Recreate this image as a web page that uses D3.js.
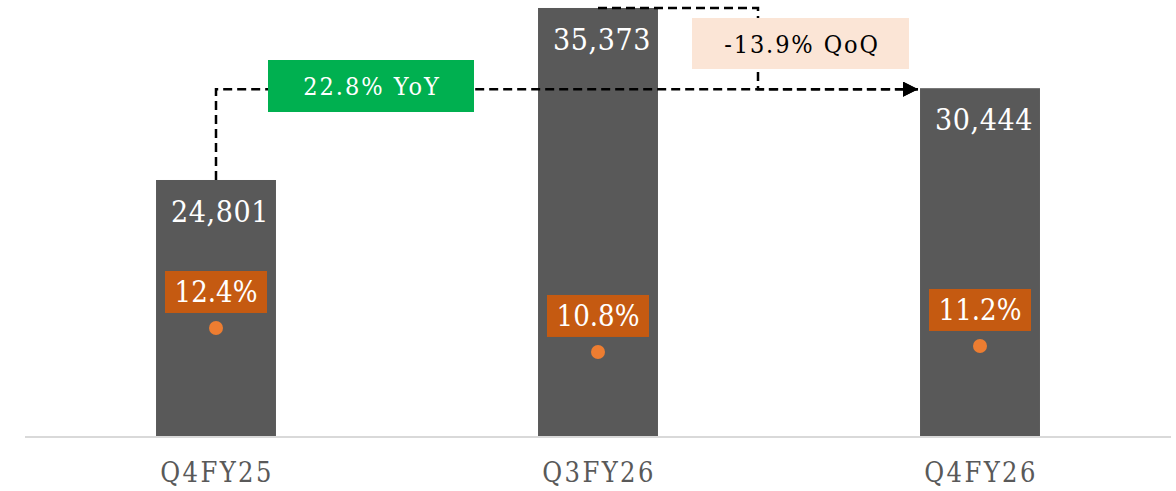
<!DOCTYPE html>
<html>
<head>
<meta charset="utf-8">
<script src="https://cdn.jsdelivr.net/npm/d3@7"></script>
<style>
  body { margin: 0; background: #fff; }
  svg text { font-family: "DejaVu Serif Condensed", "DejaVu Serif", serif; font-stretch: condensed; }
</style>
</head>
<body>
<div id="chart"></div>
<script>
// data
const quarters = ['Q4FY25', 'Q3FY26', 'Q4FY26'];
const revenue = [24801, 35373, 30444];
const margin = [12.4, 10.8, 11.2];
const yoyText = '22.8% YoY';
const qoqText = '-13.9% QoQ';

// dimensions
const width = 1176;
const height = 491;
const baseY = 437;

const svg = d3.select('#chart')
  .append('svg')
  .attr('width', width)
  .attr('height', height);

// scales
const x = d3.scaleBand().domain(quarters).range([25, 1171])
  .paddingInner(0.686).paddingOuter(0.343);
const y = d3.scaleLinear().domain([9005, 35864]).range([baseY, 0]);
const y2 = d3.scaleLinear().domain([5.13, 34.27]).range([baseY, 0]);
const cx = d => x(d) + x.bandwidth() / 2;

// arrow marker
svg.append('defs').append('marker')
  .attr('id', 'arrow')
  .attr('viewBox', '0 0 10 10')
  .attr('refX', 10).attr('refY', 5)
  .attr('markerWidth', 7.5).attr('markerHeight', 6)
  .attr('markerUnits', 'strokeWidth')
  .attr('orient', 'auto')
  .append('path')
  .attr('d', 'M0,0 L10,5 L0,10 z')
  .attr('fill', '#000');

// bars
svg.selectAll('rect.bar')
  .data(revenue)
  .enter()
  .append('rect')
  .attr('class', 'bar')
  .attr('x', (d, i) => x(quarters[i]))
  .attr('y', d => y(d))
  .attr('width', x.bandwidth())
  .attr('height', d => baseY - y(d))
  .attr('fill', '#595959');

// baseline
svg.append('line')
  .attr('x1', 25).attr('x2', 1171)
  .attr('y1', baseY).attr('y2', baseY)
  .attr('stroke', '#d9d9d9').attr('stroke-width', 2);

// category labels
svg.selectAll('text.cat')
  .data(quarters)
  .enter()
  .append('text')
  .attr('class', 'cat')
  .attr('x', d => cx(d) + 1)
  .attr('y', 482)
  .attr('text-anchor', 'middle')
  .attr('font-size', 27)
  .attr('letter-spacing', 2.4)
  .attr('fill', '#595959')
  .text(d => d);

// value labels
svg.selectAll('text.val')
  .data(revenue)
  .enter()
  .append('text')
  .attr('class', 'val')
  .attr('x', (d, i) => cx(quarters[i]) + 4)
  .attr('y', d => y(d) + 42)
  .attr('text-anchor', 'middle')
  .attr('font-size', 30)
  .attr('letter-spacing', 0.6)
  .attr('fill', '#fff')
  .text(d => d3.format(',')(d));

// margin dots and labels
svg.selectAll('circle.dot')
  .data(margin)
  .enter()
  .append('circle')
  .attr('class', 'dot')
  .attr('cx', (d, i) => cx(quarters[i]))
  .attr('cy', d => y2(d))
  .attr('r', 7)
  .attr('fill', '#ed7d31');

svg.selectAll('rect.mbox')
  .data(margin)
  .enter()
  .append('rect')
  .attr('class', 'mbox')
  .attr('x', (d, i) => cx(quarters[i]) - 51)
  .attr('y', d => y2(d) - 57)
  .attr('width', 102)
  .attr('height', 42)
  .attr('fill', '#c55a11');

svg.selectAll('text.mlab')
  .data(margin)
  .enter()
  .append('text')
  .attr('class', 'mlab')
  .attr('x', (d, i) => cx(quarters[i]))
  .attr('y', d => y2(d) - 26)
  .attr('text-anchor', 'middle')
  .attr('font-size', 29)
  .attr('fill', '#fff')
  .text(d => d.toFixed(1) + '%');

// YoY connector
const dash = '9,5';
const endX = x(quarters[2]) - 2;
const yoyY = y(revenue[2]) + 1;
svg.append('path')
  .attr('d', `M${cx(quarters[0])},${y(revenue[0])} V${yoyY} H${endX}`)
  .attr('fill', 'none')
  .attr('stroke', '#000')
  .attr('stroke-width', 2.5)
  .attr('stroke-dasharray', dash)
  .attr('marker-end', 'url(#arrow)');

// QoQ connector
const qoqX = cx(quarters[1]) + 160;
svg.append('path')
  .attr('d', `M${cx(quarters[1])},${y(revenue[1])} H${qoqX} V${yoyY} H${endX}`)
  .attr('fill', 'none')
  .attr('stroke', '#000')
  .attr('stroke-width', 2.5)
  .attr('stroke-dasharray', dash)
  .attr('marker-end', 'url(#arrow)');

// YoY box
svg.append('rect')
  .attr('x', 268).attr('y', 60)
  .attr('width', 206).attr('height', 52)
  .attr('fill', '#00b050');
svg.append('text')
  .attr('x', 372).attr('y', 95)
  .attr('text-anchor', 'middle')
  .attr('font-size', 25)
  .attr('letter-spacing', 2)
  .attr('fill', '#fff')
  .text(yoyText);

// QoQ box
svg.append('rect')
  .attr('x', 692).attr('y', 18)
  .attr('width', 217).attr('height', 51)
  .attr('fill', '#fbe5d6');
svg.append('text')
  .attr('x', 802).attr('y', 53)
  .attr('text-anchor', 'middle')
  .attr('font-size', 25)
  .attr('letter-spacing', 1.9)
  .attr('fill', '#000')
  .text(qoqText);
</script>
</body>
</html>
